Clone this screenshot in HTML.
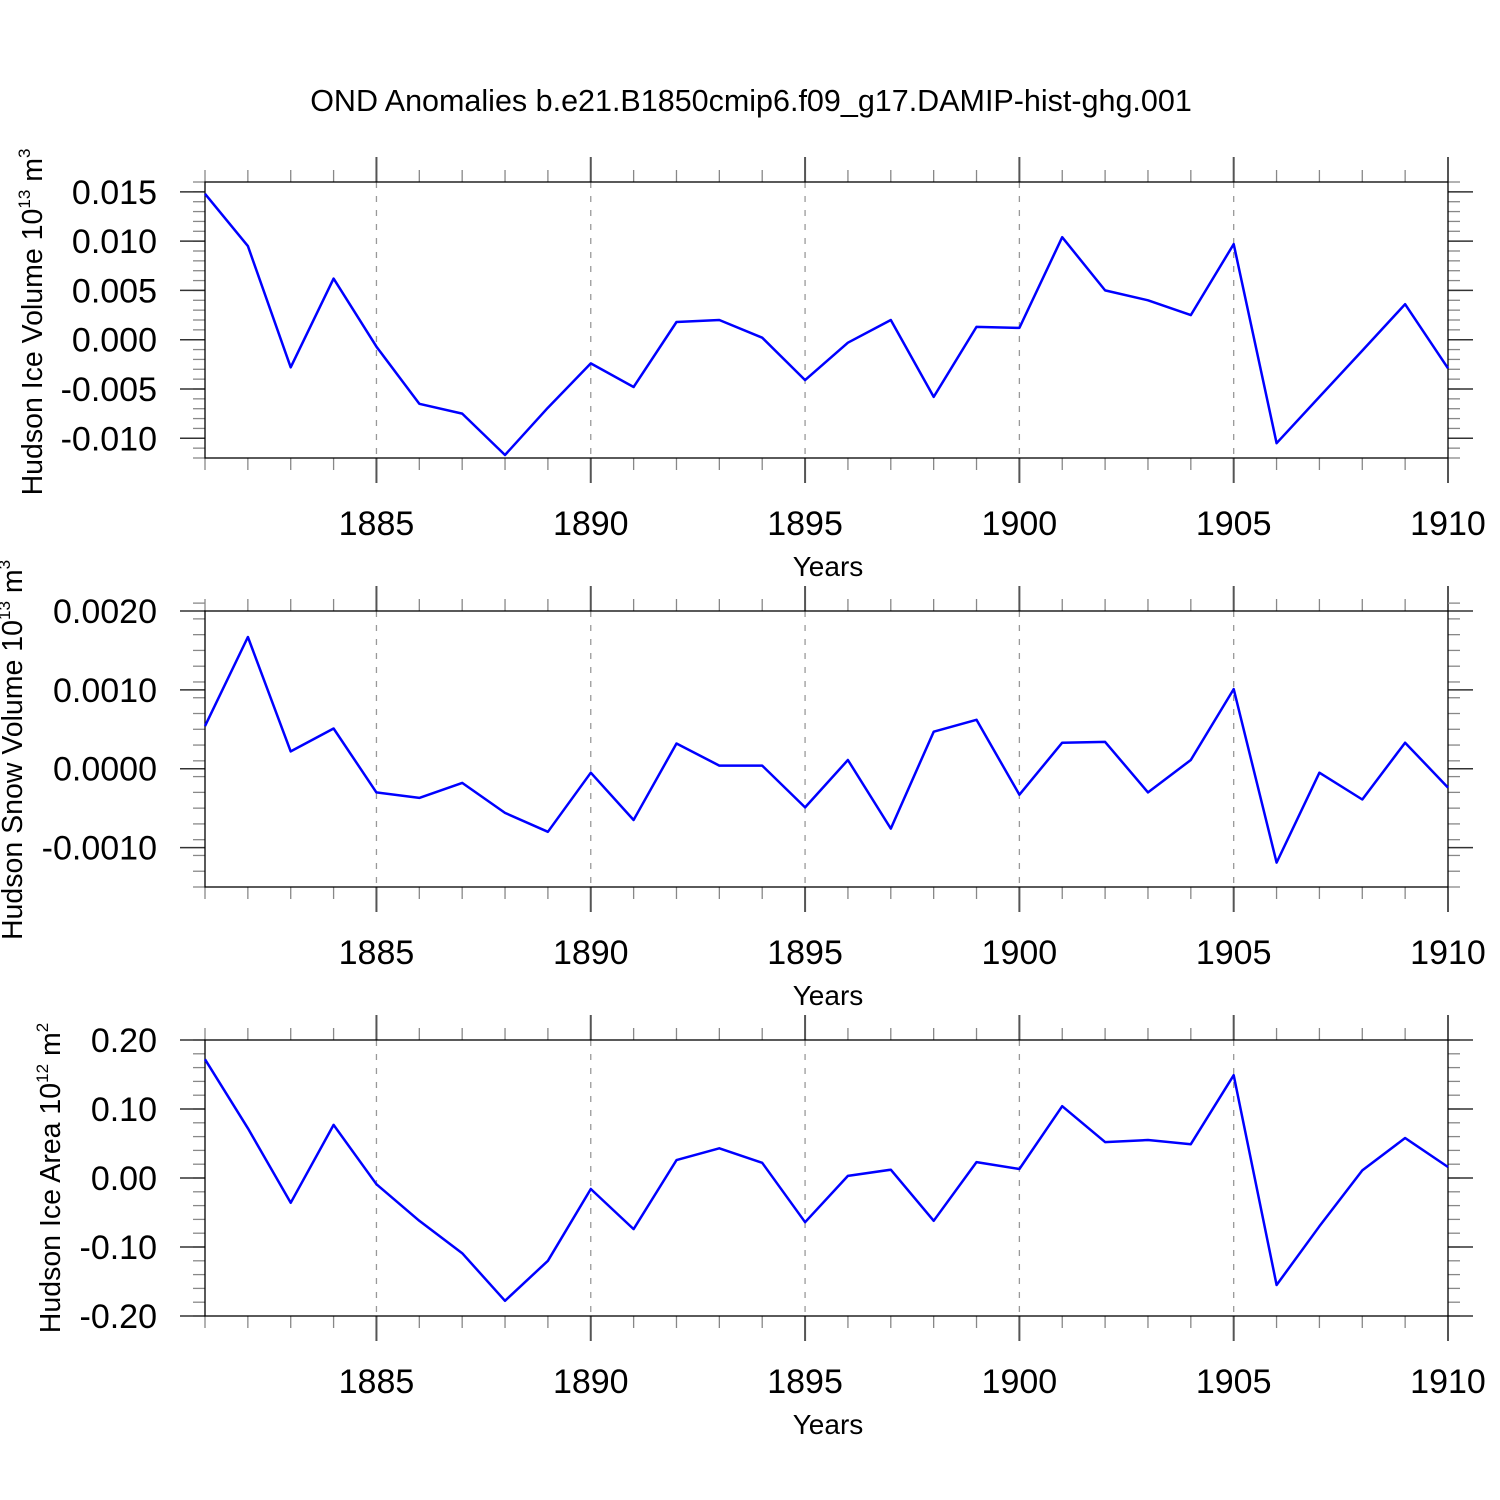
<!DOCTYPE html>
<html><head><meta charset="utf-8"><style>
body{margin:0;background:#fff}
svg{display:block;font-family:"Liberation Sans",Arial,sans-serif}
</style></head><body>
<svg id="chart" width="1500" height="1500" viewBox="0 0 1500 1500" xmlns="http://www.w3.org/2000/svg">
<rect width="1500" height="1500" fill="#fff"/>
<text x="751" y="111" font-size="30.5" text-anchor="middle">OND Anomalies b.e21.B1850cmip6.f09_g17.DAMIP-hist-ghg.001</text>
</svg>
<script>
const years = [1881,1882,1883,1884,1885,1886,1887,1888,1889,1890,1891,1892,1893,1894,1895,1896,1897,1898,1899,1900,1901,1902,1903,1904,1905,1906,1907,1908,1909,1910];
const iceVolume = [0.0148,0.0095,-0.0028,0.0062,-0.0007,-0.0065,-0.0075,-0.0117,-0.0069,-0.0024,-0.0048,0.0018,0.0020,0.0002,-0.0041,-0.0003,0.0020,-0.0058,0.0013,0.0012,0.0104,0.0050,0.0040,0.0025,0.0097,-0.0105,-0.0058,-0.0011,0.0036,-0.0029];
const snowVolume = [0.00054,0.00167,0.00022,0.00051,-0.00030,-0.00037,-0.00018,-0.00056,-0.00080,-0.00005,-0.00065,0.00032,0.00004,0.00004,-0.00049,0.00011,-0.00076,0.00047,0.00062,-0.00033,0.00033,0.00034,-0.00030,0.00011,0.00101,-0.00119,-0.00005,-0.00039,0.00033,-0.00024];
const iceArea = [0.172,0.072,-0.036,0.077,-0.009,-0.062,-0.109,-0.178,-0.120,-0.016,-0.074,0.026,0.043,0.022,-0.064,0.003,0.012,-0.062,0.023,0.013,0.104,0.052,0.055,0.049,0.149,-0.155,-0.070,0.011,0.058,0.016];
const xTickYears = [1885,1890,1895,1900,1905,1910];
const iceVolTicks = [0.015,0.010,0.005,0.000,-0.005,-0.010];
const iceVolLabels = ["0.015","0.010","0.005","0.000","-0.005","-0.010"];
const snowTicks = [0.0020,0.0010,0.0000,-0.0010];
const snowLabels = ["0.0020","0.0010","0.0000","-0.0010"];
const areaTicks = [0.20,0.10,0.00,-0.10,-0.20];
const areaLabels = ["0.20","0.10","0.00","-0.10","-0.20"];

const NS="http://www.w3.org/2000/svg";
const svg=document.getElementById('chart');
function mk(tag,attrs,parent){const e=document.createElementNS(NS,tag);for(const k in attrs)e.setAttribute(k,attrs[k]);(parent||svg).appendChild(e);return e;}
const X0=205,X1=1448,Y_MIN_YEAR=1881,Y_MAX_YEAR=1910;
const xs=y=>X0+(y-Y_MIN_YEAR)/(Y_MAX_YEAR-Y_MIN_YEAR)*(X1-X0);

function panel(name,top,ymin,ymax,minorStep,vals,ticks,labels,titleParts){
  const bot=top+276;
  const g=mk('g',{});
  
  
  const ys=v=>bot-(v-ymin)/(ymax-ymin)*(bot-top);
  xTickYears.forEach(yr=>{if(yr<Y_MAX_YEAR){const l=mk('line',{x1:xs(yr),x2:xs(yr),y1:top,y2:bot,stroke:'#999','stroke-width':1.3,'stroke-dasharray':'6 8'},g);
    
    }});
  for(let yr=Y_MIN_YEAR;yr<=Y_MAX_YEAR;yr++){
    const major=yr%5===0, len=major?25:12, x=xs(yr);
    mk('line',{x1:x,x2:x,y1:top,y2:top-len,stroke:major?'#555':'#888','stroke-width':major?2:1.3},g);
    mk('line',{x1:x,x2:x,y1:bot,y2:bot+len,stroke:major?'#555':'#888','stroke-width':major?2:1.3},g);
  }
  const n=Math.round((ymax-ymin)/minorStep);
  for(let i=0;i<=n;i++){const v=ymin+i*minorStep,y=ys(v);
    mk('line',{x1:X0,x2:X0-12,y1:y,y2:y,stroke:'#888','stroke-width':1.3},g);
    mk('line',{x1:X1,x2:X1+12,y1:y,y2:y,stroke:'#888','stroke-width':1.3},g);}
  ticks.forEach((v,i)=>{const y=ys(v);
    mk('line',{x1:X0,x2:X0-25,y1:y,y2:y,stroke:'#333','stroke-width':1.5},g);
    mk('line',{x1:X1,x2:X1+25,y1:y,y2:y,stroke:'#333','stroke-width':1.5},g);
    const t=mk('text',{x:157,y:y+12,'font-size':34,'text-anchor':'end'},g);t.textContent=labels[i];
    
    });
  xTickYears.forEach(yr=>{const t=mk('text',{x:xs(yr),y:bot+77,'font-size':34,'text-anchor':'middle'},g);t.textContent=yr;
    
    });
  const r=mk('rect',{x:X0,y:top,width:X1-X0,height:bot-top,fill:'none',stroke:'#000','stroke-width':1.3},g);
  
  
  const pts=vals.map((v,i)=>xs(years[i]).toFixed(1)+','+ys(v).toFixed(1)).join(' ');
  const pl=mk('polyline',{points:pts,fill:'none',stroke:'#0000ff','stroke-width':2.5,'stroke-linejoin':'round'},g);
  
  
  const xt=mk('text',{x:828,y:bot+118,'font-size':28,'text-anchor':'middle'},g);xt.textContent='Years';
  
  
  const yt=mk('text',{transform:`translate(${titleParts.x},${titleParts.cy}) rotate(-90)`,'font-size':28.5,'text-anchor':'middle'},g);
  
  
  yt.innerHTML=titleParts.text+' 10<tspan dy="-12" font-size="17">'+titleParts.exp+'</tspan><tspan dy="12"> m</tspan><tspan dy="-12" font-size="17">'+titleParts.unit+'</tspan>';
}
panel('ice-volume',182,-0.012,0.016,0.001,iceVolume,iceVolTicks,iceVolLabels,{x:42,cy:322,text:'Hudson Ice Volume',exp:'13',unit:'3'});
panel('snow-volume',611,-0.0015,0.0020,0.0002,snowVolume,snowTicks,snowLabels,{x:22,cy:750,text:'Hudson Snow Volume',exp:'13',unit:'3'});
panel('ice-area',1040,-0.20,0.20,0.02,iceArea,areaTicks,areaLabels,{x:60,cy:1178,text:'Hudson Ice Area',exp:'12',unit:'2'});
</script>
</body></html>
